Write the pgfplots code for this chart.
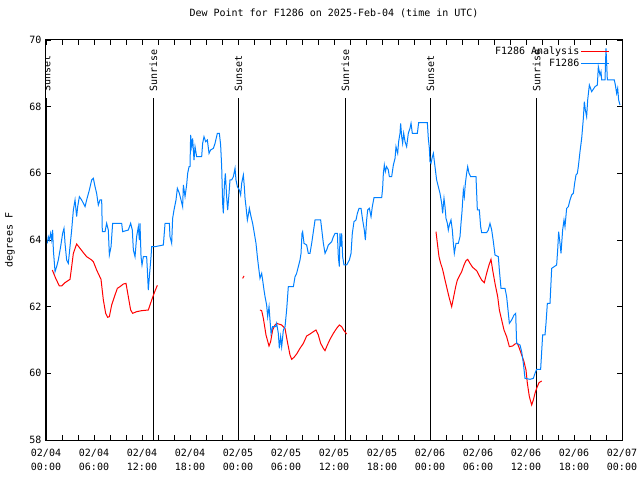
\documentclass[border=0pt]{standalone}
\usepackage{pgfplots}
\pgfplotsset{compat=1.18}
\usepackage{fontspec}
\setmainfont{DejaVu Sans Mono}
\usetikzlibrary{calc}
\definecolor{dpblue}{RGB}{0,128,255}
\definecolor{dpred}{RGB}{255,0,0}

\begin{document}
\begin{tikzpicture}
\begin{axis}[
 scale only axis, width=576bp, height=400bp,
 xmin=0, xmax=72, ymin=58, ymax=70,
 font=\fontsize{10bp}{14bp}\selectfont,
 /pgf/number format/assume math mode=true,
 xtick={0,6,...,72},
 xticklabels={{02/04\\00:00},{02/04\\06:00},{02/04\\12:00},{02/04\\18:00},{02/05\\00:00},{02/05\\06:00},{02/05\\12:00},{02/05\\18:00},{02/06\\00:00},{02/06\\06:00},{02/06\\12:00},{02/06\\18:00},{02/07\\00:00}},
 xticklabel style={align=center, yshift=-6bp},
 yticklabel style={xshift=-1bp},
 minor xtick={2,4,8,10,14,16,20,22,26,28,32,34,38,40,44,46,50,52,56,58,62,64,68,70},
 ytick={58,60,...,70},
 tick align=inside, major tick length=5bp, minor tick length=5bp,
 tick style={black, line width=0.8bp},
 axis line style={line width=1bp},
 title={Dew Point for F1286 on 2025-Feb-04 (time in UTC)},
 title style={at={(axis description cs:0.5,1)}, anchor=center, yshift=21bp},
 ylabel={degrees F},
 ylabel style={at={(axis description cs:-0.0625,0.5)}, anchor=center},
 legend plot pos=right,
 legend cell align=right,
 legend image code/.code={\draw[#1] (0bp,0bp) -- (28bp,0bp);},
 legend style={draw=none, fill=none, at={(axis description cs:1,1)}, anchor=north east, xshift=-11bp, yshift=-4bp, row sep=0.5bp, inner sep=1bp, nodes={inner sep=1.5bp}},
]
\coordinate (ll) at (rel axis cs:0,0);
\coordinate (ur) at (rel axis cs:1,1);

% sunrise / sunset markers
\addplot[black, line width=1bp, forget plot] coordinates {(0.08,58) (0.08,68.26)};
\addplot[black, line width=1bp, forget plot] coordinates {(13.42,58) (13.42,68.26)};
\addplot[black, line width=1bp, forget plot] coordinates {(24.05,58) (24.05,68.26)};
\addplot[black, line width=1bp, forget plot] coordinates {(37.42,58) (37.42,68.26)};
\addplot[black, line width=1bp, forget plot] coordinates {(48.07,58) (48.07,68.26)};
\addplot[black, line width=1bp, forget plot] coordinates {(61.33,58) (61.33,68.26)};
\node[rotate=90, anchor=west, inner sep=0pt] at (axis cs:0.08,68.44) {Sunset};
\node[rotate=90, anchor=west, inner sep=0pt] at (axis cs:13.42,68.44) {Sunrise};
\node[rotate=90, anchor=west, inner sep=0pt] at (axis cs:24.05,68.44) {Sunset};
\node[rotate=90, anchor=west, inner sep=0pt] at (axis cs:37.42,68.44) {Sunrise};
\node[rotate=90, anchor=west, inner sep=0pt] at (axis cs:48.07,68.44) {Sunset};
\node[rotate=90, anchor=west, inner sep=0pt] at (axis cs:61.33,68.44) {Sunrise};

% F1286 Analysis
\addplot[dpred, line width=1bp] coordinates {
(0.79,63.1) (1.21,62.85) (1.67,62.62) (1.96,62.62) (2.375,62.72) (3.0,62.82) (3.21,63.2) (3.42,63.6) (3.83,63.88) (4.25,63.75) (4.67,63.62) (5.08,63.5) (5.71,63.4) (5.92,63.35) (6.33,63.1) (6.875,62.82) (7.17,62.2) (7.46,61.8) (7.71,61.68) (7.92,61.7) (8.21,62.05) (8.625,62.35) (8.92,62.55) (9.25,62.6) (9.67,62.68) (10.0,62.7) (10.29,62.3) (10.58,61.9) (10.83,61.8) (11.33,61.85) (11.96,61.88) (12.79,61.9) (13.0,62.05) (13.33,62.28) (13.625,62.47) (13.92,62.64)
};
\addlegendentry{F1286 Analysis}
\addplot[dpred, line width=1bp, forget plot] coordinates {(24.58,62.85) (24.75,62.92)};
\addplot[dpred, line width=1bp, forget plot] coordinates {
(26.75,61.9) (26.96,61.88) (27.17,61.65) (27.5,61.15) (27.875,60.82) (28.08,60.95) (28.33,61.3) (28.625,61.45) (28.83,61.5) (29.46,61.45) (29.875,61.35) (30.17,60.95) (30.5,60.55) (30.71,60.42) (31.0,60.48) (31.33,60.58) (31.75,60.75) (32.17,60.9) (32.58,61.12) (33.0,61.18) (33.42,61.25) (33.75,61.3) (34.04,61.15) (34.33,60.9) (34.67,60.75) (34.875,60.68) (35.17,60.85) (35.5,61.02) (35.92,61.2) (36.33,61.35) (36.67,61.45) (36.96,61.4) (37.25,61.28) (37.58,61.18)
};
\addplot[dpred, line width=1bp, forget plot] coordinates {
(48.75,64.25) (48.92,63.9) (49.125,63.5) (49.33,63.3) (49.54,63.15) (49.67,63.02) (49.875,62.8) (50.17,62.5) (50.42,62.25) (50.71,62.0) (50.92,62.25) (51.21,62.6) (51.42,62.8) (51.67,62.92) (51.96,63.05) (52.25,63.25) (52.5,63.38) (52.71,63.42) (53.0,63.3) (53.33,63.18) (53.83,63.08) (54.17,62.92) (54.46,62.8) (54.79,62.72) (55.08,63.0) (55.375,63.25) (55.625,63.42) (55.83,63.1) (56.125,62.7) (56.46,62.3) (56.67,61.9) (56.96,61.6) (57.25,61.3) (57.58,61.1) (57.92,60.8) (58.33,60.82) (58.625,60.88) (58.92,60.9) (59.17,60.75) (59.46,60.55) (59.75,60.35) (60.0,60.1) (60.17,59.7) (60.42,59.3) (60.71,59.05) (60.92,59.2) (61.125,59.4) (61.33,59.55) (61.625,59.72) (61.96,59.77)
};

% F1286
\addplot[dpblue, line width=1bp] coordinates {
(0.17,63.9) (0.29,64.1) (0.42,64.0) (0.58,64.2) (0.71,64.0) (0.83,64.3) (0.92,63.7) (1.13,63.05) (1.33,63.2) (1.54,63.4) (1.83,63.8) (2.08,64.2) (2.25,64.35) (2.38,63.9) (2.58,63.4) (2.79,63.3) (3.0,63.8) (3.21,64.3) (3.42,64.9) (3.63,65.2) (3.83,64.7) (3.96,65.0) (4.17,65.3) (4.46,65.2) (4.67,65.1) (4.88,65.0) (5.08,65.2) (5.42,65.5) (5.71,65.8) (5.92,65.85) (6.13,65.6) (6.33,65.4) (6.54,65.05) (6.75,65.2) (6.96,65.2) (7.04,64.25) (7.38,64.25) (7.58,64.5) (7.79,64.3) (7.92,63.55) (8.13,63.8) (8.33,64.5) (9.46,64.5) (9.58,64.25) (10.29,64.3) (10.58,64.5) (10.79,64.3) (10.92,63.7) (11.13,63.5) (11.33,64.1) (11.54,64.4) (11.67,64.0) (11.75,64.5) (11.88,63.5) (12.0,63.25) (12.17,63.5) (12.58,63.5) (12.67,63.1) (12.79,62.5) (12.92,62.9) (13.13,63.5) (13.21,63.8) (13.63,63.8) (14.67,63.85) (14.88,64.5) (15.42,64.5) (15.5,64.1) (15.71,63.9) (15.83,64.65) (16.0,64.9) (16.25,65.2) (16.42,65.55) (16.67,65.4) (16.88,65.2) (17.08,65.0) (17.17,65.65) (17.38,65.3) (17.58,65.65) (17.71,66.0) (17.88,66.2) (18.0,66.2) (18.08,67.15) (18.21,66.8) (18.33,67.05) (18.5,66.4) (18.63,66.8) (18.83,66.5) (19.46,66.5) (19.58,66.9) (19.75,67.1) (19.96,66.95) (20.17,67.0) (20.38,66.6) (20.58,66.7) (20.92,66.75) (21.13,66.9) (21.42,67.2) (21.67,67.2) (21.83,66.85) (21.96,66.2) (22.08,65.1) (22.17,64.8) (22.29,65.6) (22.42,66.0) (22.58,65.3) (22.71,64.9) (22.88,65.4) (23.0,65.8)
(23.21,65.8) (23.42,65.9) (23.63,66.15) (23.75,65.8) (23.92,65.6) (24.17,65.5) (24.33,65.35) (24.46,65.7) (24.67,65.95) (24.79,65.6) (24.88,65.25) (25.0,65.0) (25.17,64.6) (25.29,64.75) (25.42,64.95) (25.63,64.7) (25.83,64.5) (26.04,64.2) (26.25,63.9) (26.42,63.5) (26.54,63.25) (26.75,62.85) (26.96,63.0) (27.08,62.8) (27.25,62.5) (27.38,62.3) (27.58,62.05) (27.71,61.7) (27.88,62.0) (28.0,61.6) (28.13,61.2) (28.33,61.4) (28.71,61.4) (28.83,61.5) (29.04,61.2) (29.17,60.75) (29.33,61.1) (29.46,60.8) (29.67,61.3) (29.88,61.4) (30.08,61.9) (30.29,62.6) (30.92,62.6) (31.13,62.9) (31.33,63.0) (31.54,63.2) (31.75,63.4) (31.88,63.6) (32.0,64.2) (32.08,64.25) (32.25,63.9) (32.58,63.85) (32.79,63.6) (33.0,63.6) (33.21,63.9) (33.42,64.25) (33.63,64.6) (34.33,64.6) (34.5,64.25) (34.67,63.9) (34.88,63.6) (35.08,63.7) (35.29,63.85) (35.5,63.9) (35.71,63.95) (35.92,64.1) (36.13,64.2) (36.42,64.2) (36.54,63.5) (36.67,63.2) (36.75,64.2) (36.88,63.8) (36.96,64.2) (37.08,63.5) (37.25,63.25) (37.58,63.25) (37.92,63.4) (38.13,63.6) (38.29,64.2) (38.5,64.55) (38.75,64.6) (38.92,64.8) (39.13,64.95) (39.38,64.95) (39.58,64.6) (39.79,64.3) (39.92,64.0) (40.08,64.6) (40.21,64.9) (40.42,64.95) (40.63,64.7) (40.79,65.0) (41.0,65.27) (41.96,65.27) (42.08,65.55) (42.17,66.0) (42.29,66.25) (42.42,66.05) (42.58,66.2) (42.79,66.1) (42.92,65.9) (43.21,65.9) (43.42,66.25) (43.63,66.45) (43.75,66.8) (43.96,66.6) (44.08,66.95) (44.25,67.2) (44.33,67.5) (44.46,67.1) (44.58,66.9) (44.71,67.2) (44.88,66.95) (45.08,66.8) (45.29,67.2) (45.5,67.35) (45.63,67.5) (45.79,67.2) (46.42,67.2) (46.58,67.52) (47.67,67.52)
(47.79,67.05) (47.92,66.75) (48.0,66.35) (48.125,66.3) (48.25,66.45) (48.42,66.6) (48.625,66.2) (48.83,65.8) (49.04,65.6) (49.25,65.4) (49.46,65.1) (49.58,64.8) (49.75,65.25) (49.875,65.0) (50.0,64.65) (50.17,64.5) (50.29,64.3) (50.42,64.45) (50.625,64.6) (50.79,64.3) (50.92,63.9) (51.04,63.6) (51.25,63.9) (51.54,63.9) (51.75,64.1) (51.875,64.5) (52.0,64.85) (52.17,65.5) (52.29,65.3) (52.42,65.7) (52.58,66.0) (52.71,66.2) (52.875,66.0) (53.08,65.9) (53.75,65.9) (53.92,64.9) (54.17,64.9) (54.33,64.4) (54.46,64.22) (55.08,64.22) (55.29,64.3) (55.5,64.5) (55.71,64.3) (55.92,63.95) (56.125,63.55) (56.54,63.5) (56.67,63.1) (56.875,62.55) (57.375,62.55) (57.58,62.3) (57.71,62.0) (57.92,61.5) (58.21,61.6) (58.5,61.75) (58.71,61.8) (58.83,60.9) (59.25,60.85) (59.46,60.65) (59.67,60.3) (59.875,59.85) (60.5,59.82) (60.92,59.85) (61.125,60.0) (61.33,60.12) (61.83,60.12) (61.96,60.65) (62.08,61.15) (62.375,61.15) (62.5,61.5) (62.67,62.1) (63.0,62.1) (63.21,63.15) (63.83,63.25) (63.96,63.7) (64.08,64.25) (64.25,63.9) (64.375,63.6) (64.58,64.3) (64.75,64.6) (64.875,64.4) (65.08,64.95) (65.29,65.0) (65.5,65.2) (65.71,65.35) (65.92,65.4) (66.08,65.7) (66.25,65.95) (66.42,66.0) (66.54,66.2) (66.75,66.65) (66.96,67.05) (67.17,67.65) (67.29,68.15) (67.42,67.9) (67.58,67.7) (67.71,68.2) (67.92,68.65) (68.21,68.45) (68.625,68.6) (68.92,68.65) (69.04,69.2) (69.25,68.95) (69.375,69.05) (69.46,68.8) (69.875,68.8) (70.0,69.75) (70.17,68.8) (71.04,68.8) (71.17,68.65) (71.33,68.4) (71.46,68.55) (71.58,68.2) (71.75,68.05)
};
\addlegendentry{F1286}
\end{axis}
\pgfresetboundingbox
\path[use as bounding box] ($(ll)+(-46bp,-40bp)$) rectangle ($(ur)+(18bp,40bp)$);
\end{tikzpicture}
\end{document}
